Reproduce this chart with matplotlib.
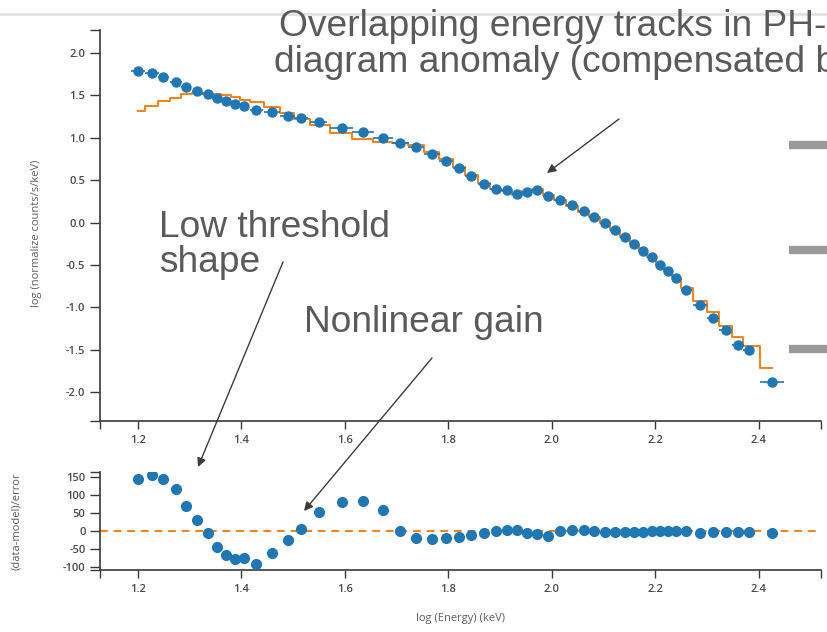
import numpy as np
import matplotlib
matplotlib.use("Agg")
import matplotlib.pyplot as plt
from matplotlib.lines import Line2D
from matplotlib.patches import FancyArrowPatch

# --- data ---
log_energy = [1.200, 1.227, 1.249, 1.273, 1.293, 1.314, 1.335, 1.352, 1.370, 1.388,
              1.405, 1.429, 1.459, 1.489, 1.515, 1.549, 1.594, 1.635, 1.673, 1.707,
              1.737, 1.768, 1.795, 1.821, 1.844, 1.869, 1.892, 1.913, 1.932, 1.952,
              1.972, 1.992, 2.015, 2.038, 2.062, 2.082, 2.103, 2.122, 2.141, 2.159,
              2.176, 2.193, 2.209, 2.224, 2.240, 2.260, 2.287, 2.311, 2.336, 2.359,
              2.380, 2.426]
log_counts = [1.79, 1.76, 1.71, 1.66, 1.60, 1.55, 1.51, 1.47, 1.43, 1.40,
              1.37, 1.33, 1.30, 1.26, 1.23, 1.19, 1.12, 1.07, 1.00, 0.94,
              0.89, 0.81, 0.73, 0.64, 0.55, 0.46, 0.39, 0.38, 0.34, 0.36,
              0.38, 0.31, 0.26, 0.21, 0.14, 0.07, -0.01, -0.09, -0.17, -0.25,
              -0.33, -0.41, -0.50, -0.57, -0.65, -0.79, -0.97, -1.13, -1.27, -1.44,
              -1.50, -1.88]
log_model = [1.32, 1.375, 1.43, 1.465, 1.51, 1.53, 1.53, 1.52, 1.50, 1.48,
             1.45, 1.42, 1.36, 1.29, 1.22, 1.15, 1.05, 0.99, 0.95, 0.94,
             0.91, 0.83, 0.75, 0.66, 0.56, 0.47, 0.39, 0.37, 0.33, 0.37,
             0.39, 0.33, 0.26, 0.20, 0.13, 0.07, -0.01, -0.09, -0.17, -0.25,
             -0.33, -0.41, -0.50, -0.57, -0.65, -0.77, -0.92, -1.06, -1.22, -1.35,
             -1.46, -1.71]
residual = [146, 155, 144, 117, 69, 31, -6, -42, -65, -76,
            -74, -90, -59, -23, 7, 53, 81, 84, 60, 1,
            -18, -22, -18, -16, -11, -5, 0, 5, 5, -4,
            -8, -12, 0, 4, 4, 2, -1, -2, -3, -2,
            -2, 0, 1, 1, 1, 0, -4, -3, -1, -3,
            -1, -5]
xticks = [1.2, 1.4, 1.6, 1.8, 2.0, 2.2, 2.4]
top_yticks = [-2.0, -1.5, -1.0, -0.5, 0.0, 0.5, 1.0, 1.5, 2.0]
res_yticks = [-100, -50, 0, 50, 100, 150]

BLUE = "#1f77b4"
ORANGE = "#ff7f0e"
TEXT = "#5a5a5a"
AXC = "#3a3a3a"

W, H = 828, 632
fig = plt.figure(figsize=(W / 100, H / 100), dpi=100)


def fx(px):
    return px / W


def fy(py):
    return 1 - py / H


x = np.array(log_energy)
gaps = np.diff(x)
xerr = np.r_[gaps[0], gaps] / 2  # half bin widths

xlim = (1.1266, 2.52)

ax = fig.add_axes([fx(100), fy(421), fx(821) - fx(100), fy(30) - fy(421)])
ax2 = fig.add_axes([fx(100), fy(570), fx(821) - fx(100), fy(471.7) - fy(570)])


def style(a, ylim, yticks):
    a.set_xlim(*xlim)
    a.set_ylim(*ylim)
    for s in ("top", "right"):
        a.spines[s].set_visible(False)
    for s in ("left", "bottom"):
        a.spines[s].set_color(AXC)
        a.spines[s].set_linewidth(1.2)
    a.set_xticks(xticks)
    a.set_xticklabels([f"{t:.1f}" for t in xticks])
    a.set_yticks(yticks)
    a.set_xticks(list(xlim), minor=True)
    a.set_yticks(list(ylim), minor=True)
    a.tick_params(axis="x", which="both", length=6, width=1, color=AXC,
                  labelsize=8, labelcolor="#4a4a4a", pad=4)
    a.tick_params(axis="y", which="both", length=7, width=1, color=AXC,
                  labelsize=8, labelcolor="#4a4a4a", pad=3.5)
    for lab in a.get_xticklabels() + a.get_yticklabels():
        lab.set_family("Open Sans")
        lab.set_weight("semibold")


# upper panel: spectrum and model
ax.plot(x, log_model, drawstyle="steps-mid", color=ORANGE, lw=1.4, zorder=2)
ax.errorbar(x, log_counts, xerr=xerr, fmt="o", color=BLUE, ms=6.5,
            elinewidth=1.2, capsize=0, zorder=3)
style(ax, (-2.34, 2.27), top_yticks)
ax.set_yticklabels([f"{t:.1f}" for t in top_yticks])
ax.set_ylabel("log (normalize counts/s/keV)", family="Open Sans",
              fontsize=8, color="#5e5e5e")
ax.yaxis.set_label_coords(-0.080, 0.48)

# lower panel: residuals
ax2.axhline(0, color=ORANGE, lw=1.4, ls=(0, (4, 3)), zorder=1)
ax2.plot(x, residual, "o", color=BLUE, ms=7, zorder=3)
style(ax2, (-107, 165), res_yticks)
ax2.set_yticklabels([str(t) for t in res_yticks])
ax2.set_ylabel("(data-model)/error", family="Open Sans", fontsize=8,
               color="#5e5e5e")
ax2.yaxis.set_label_coords(-0.108, 0.5)
ax2.set_xlabel("log (Energy) (keV)", family="Open Sans", fontsize=8,
               color="#5e5e5e")
ax2.xaxis.set_label_coords(0.5, -0.44)

# slide decorations
fig.add_artist(Line2D([0, 1], [fy(14), fy(14)], transform=fig.transFigure,
                      color="#e2e2e2", lw=2))
for py in (145, 250, 349):
    fig.add_artist(Line2D([fx(789), 1], [fy(py), fy(py)],
                          transform=fig.transFigure, color="#9a9a9a", lw=6,
                          solid_capstyle="butt"))

# annotation text
font = dict(family="Liberation Sans", fontsize=26.7, color=TEXT, va="baseline",
            ha="left", transform=fig.transFigure)
fig.text(fx(279), fy(36), "Overlapping energy tracks in PH-", **font)
fig.text(fx(274), fy(71.5), "diagram anomaly (compensated by", **font)
fig.text(fx(159), fy(237), "Low threshold", **font)
fig.text(fx(159), fy(272.5), "shape", **font)
fig.text(fx(304), fy(332.5), "Nonlinear gain", **font)

arrows = [((619, 119), (547, 173)),
          ((283, 262), (198, 467)),
          ((432, 358), (304, 511))]
for (x0, y0), (x1, y1) in arrows:
    fig.add_artist(FancyArrowPatch((fx(x0), fy(y0)), (fx(x1), fy(y1)),
                                   transform=fig.transFigure,
                                   arrowstyle="-|>", mutation_scale=13,
                                   color="#3c3c3c", lw=1.0,
                                   shrinkA=0, shrinkB=0))

fig.savefig("out.png", dpi=100)
